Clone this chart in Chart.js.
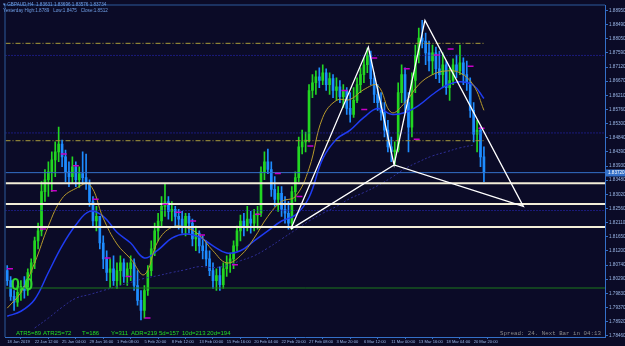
<!DOCTYPE html>
<html>
<head>
<meta charset="utf-8">
<script src="https://cdn.jsdelivr.net/npm/chart.js@4.4.1/dist/chart.umd.min.js"></script>
<style>
  html, body { margin: 0; padding: 0; background: #0b0b27; }
  canvas { display: block; }
</style>
</head>
<body>
<canvas id="chart-candles" width="625" height="346"></canvas>
<script>
// GBPAUD H4, mid Jan - Mar 2019
var timeLabels = ["18 Jan 2019", "22 Jan 12:00", "25 Jan 04:00", "29 Jan 16:00", "1 Feb 08:00", "5 Feb 20:00",
    "8 Feb 12:00", "13 Feb 00:00", "15 Feb 16:00", "20 Feb 04:00", "22 Feb 20:00", "27 Feb 08:00",
    "3 Mar 20:00", "6 Mar 12:00", "11 Mar 00:00", "13 Mar 16:00", "18 Mar 04:00", "20 Mar 20:00"];
var timeTickBars = [0, 8, 16, 24, 32, 40, 48, 56, 64, 72, 80, 88, 96, 104, 112, 120, 128, 136];

var priceTicks = [1.88950, 1.88490, 1.88050, 1.87590, 1.87120, 1.86670, 1.86210, 1.85760, 1.85300, 1.84840,
    1.84390, 1.83930, 1.83480, 1.83020, 1.82560, 1.82110, 1.81650, 1.81200, 1.80740, 1.80290,
    1.79830, 1.79370, 1.78920, 1.78460];

var firstOpen = 1.8056;
var closes = [
    1.8024, 1.7973, 1.7954, 1.7986, 1.8005, 1.7992, 1.8050, 1.8081, 1.8152, 1.8184,
    1.8311, 1.8349, 1.8375, 1.8413, 1.8439, 1.8464, 1.8423, 1.8375, 1.8359, 1.8391,
    1.8349, 1.8369, 1.8356, 1.8337, 1.8279, 1.8216, 1.8231, 1.8145, 1.8094, 1.8050,
    1.8062, 1.8024, 1.8056, 1.8081, 1.8037, 1.8062, 1.8081, 1.8008, 1.7960, 1.7928,
    1.7992, 1.8056, 1.8126, 1.8184, 1.8216, 1.8263, 1.8279, 1.8247, 1.8254, 1.8231,
    1.8222, 1.8200, 1.8231, 1.8209, 1.8158, 1.8177, 1.8136, 1.8120, 1.8094, 1.8056,
    1.8024, 1.8040, 1.8011, 1.8062, 1.8081, 1.8094, 1.8136, 1.8184, 1.8216, 1.8200,
    1.8222, 1.8209, 1.8235, 1.8241, 1.8375, 1.8407, 1.8382, 1.8318, 1.8286, 1.8305,
    1.8254, 1.8241, 1.8209, 1.8311, 1.8356, 1.8455, 1.8471, 1.8477, 1.8637, 1.8662,
    1.8681, 1.8669, 1.8694, 1.8656, 1.8675, 1.8637, 1.8649, 1.8617, 1.8637, 1.8579,
    1.8560, 1.8605, 1.8656, 1.8688, 1.8720, 1.8751, 1.8675, 1.8624, 1.8598, 1.8566,
    1.8509, 1.8455, 1.8439, 1.8445, 1.8630, 1.8688, 1.8598, 1.8519, 1.8669, 1.8751,
    1.8806, 1.8796, 1.8758, 1.8732, 1.8758, 1.8707, 1.8688, 1.8720, 1.8646, 1.8669,
    1.8720, 1.8700, 1.8726, 1.8688, 1.8662, 1.8573, 1.8496, 1.8509, 1.8423, 1.8372];
var highs = [
    1.8072, 1.8037, 1.7992, 1.8008, 1.8024, 1.8037, 1.8062, 1.8094, 1.8164, 1.8209,
    1.8343, 1.8382, 1.8407, 1.8439, 1.8471, 1.8519, 1.8477, 1.8445, 1.8407, 1.8423,
    1.8407, 1.8391, 1.8439, 1.8432, 1.8349, 1.8295, 1.8263, 1.8231, 1.8168, 1.8120,
    1.8094, 1.8104, 1.8081, 1.8104, 1.8094, 1.8081, 1.8104, 1.8094, 1.8056, 1.7992,
    1.8008, 1.8072, 1.8152, 1.8209, 1.8241, 1.8295, 1.8337, 1.8295, 1.8279, 1.8263,
    1.8254, 1.8247, 1.8241, 1.8241, 1.8222, 1.8200, 1.8184, 1.8168, 1.8152, 1.8120,
    1.8081, 1.8062, 1.8068, 1.8081, 1.8104, 1.8113, 1.8152, 1.8200, 1.8235, 1.8241,
    1.8263, 1.8247, 1.8254, 1.8263, 1.8391, 1.8439, 1.8448, 1.8407, 1.8359, 1.8327,
    1.8327, 1.8295, 1.8279, 1.8327, 1.8375, 1.8487, 1.8509, 1.8503, 1.8656, 1.8688,
    1.8700, 1.8710, 1.8720, 1.8707, 1.8694, 1.8688, 1.8678, 1.8669, 1.8656, 1.8646,
    1.8630, 1.8646, 1.8678, 1.8710, 1.8742, 1.8774, 1.8764, 1.8694, 1.8656, 1.8630,
    1.8598, 1.8541, 1.8487, 1.8471, 1.8662, 1.8720, 1.8710, 1.8630, 1.8694, 1.8783,
    1.8838, 1.8863, 1.8822, 1.8796, 1.8783, 1.8777, 1.8764, 1.8758, 1.8732, 1.8710,
    1.8739, 1.8751, 1.8783, 1.8742, 1.8732, 1.8678, 1.8598, 1.8541, 1.8519, 1.8455];
var lows = [
    1.8008, 1.7960, 1.7928, 1.7941, 1.7960, 1.7967, 1.7976, 1.8024, 1.8062, 1.8126,
    1.8168, 1.8279, 1.8295, 1.8311, 1.8359, 1.8407, 1.8391, 1.8343, 1.8327, 1.8337,
    1.8327, 1.8324, 1.8337, 1.8318, 1.8263, 1.8200, 1.8184, 1.8126, 1.8062, 1.8024,
    1.8002, 1.8008, 1.7999, 1.8011, 1.8018, 1.8008, 1.8024, 1.7992, 1.7945, 1.7897,
    1.7903, 1.7976, 1.8040, 1.8104, 1.8152, 1.8200, 1.8231, 1.8222, 1.8216, 1.8200,
    1.8190, 1.8177, 1.8168, 1.8177, 1.8136, 1.8120, 1.8113, 1.8094, 1.8072, 1.8040,
    1.7999, 1.7992, 1.7992, 1.7999, 1.8037, 1.8050, 1.8062, 1.8120, 1.8152, 1.8168,
    1.8184, 1.8177, 1.8184, 1.8190, 1.8231, 1.8349, 1.8369, 1.8295, 1.8263, 1.8247,
    1.8231, 1.8209, 1.8190, 1.8190, 1.8279, 1.8343, 1.8432, 1.8439, 1.8471, 1.8614,
    1.8624, 1.8646, 1.8656, 1.8637, 1.8624, 1.8614, 1.8605, 1.8598, 1.8582, 1.8560,
    1.8535, 1.8550, 1.8598, 1.8630, 1.8662, 1.8694, 1.8656, 1.8598, 1.8573, 1.8541,
    1.8487, 1.8439, 1.8407, 1.8397, 1.8439, 1.8598, 1.8566, 1.8439, 1.8487, 1.8630,
    1.8726, 1.8774, 1.8720, 1.8700, 1.8688, 1.8675, 1.8662, 1.8646, 1.8624, 1.8605,
    1.8656, 1.8678, 1.8688, 1.8656, 1.8637, 1.8550, 1.8471, 1.8439, 1.8391, 1.8343];

// moving averages, read every 4th bar
var maBars = [0, 4, 8, 12, 16, 20, 24, 28, 32, 36, 40, 44, 48, 52, 56, 60, 64, 68, 72, 76,
    80, 84, 88, 92, 96, 100, 104, 108, 112, 116, 120, 124, 128, 132, 136, 139];
var maFast = [1.7935, 1.7986, 1.8081, 1.8200, 1.8289, 1.8321, 1.8334, 1.8225, 1.8142, 1.8094,
    1.8043, 1.8152, 1.8196, 1.8196, 1.8171, 1.8120, 1.8081, 1.8104, 1.8161, 1.8231,
    1.8279, 1.8295, 1.8385, 1.8550, 1.8605, 1.8608, 1.8640, 1.8653, 1.8566, 1.8598,
    1.8656, 1.8688, 1.8700, 1.8694, 1.8653, 1.8573];
var maMid = [1.7909, 1.7925, 1.7963, 1.8050, 1.8136, 1.8203, 1.8247, 1.8231, 1.8180, 1.8145,
    1.8097, 1.8123, 1.8161, 1.8174, 1.8164, 1.8136, 1.8113, 1.8120, 1.8152, 1.8184,
    1.8216, 1.8235, 1.8292, 1.8417, 1.8480, 1.8509, 1.8550, 1.8579, 1.8560, 1.8566,
    1.8589, 1.8624, 1.8653, 1.8665, 1.8653, 1.8611];
var maSlowBars = [8, 12, 16, 20, 24, 28, 32, 36, 40, 44, 48, 52, 56, 60, 64, 68, 72, 76, 80, 84,
    88, 92, 96, 100, 104, 108, 112, 116, 120, 124, 128, 132, 136];
var maSlow = [1.7871, 1.7903, 1.7938, 1.7967, 1.7979, 1.7992, 1.8005, 1.8018, 1.8031, 1.8040,
    1.8050, 1.8059, 1.8069, 1.8066, 1.8072, 1.8088, 1.8104, 1.8129, 1.8158, 1.8187,
    1.8216, 1.8241, 1.8263, 1.8289, 1.8308, 1.8330, 1.8356, 1.8385, 1.8407, 1.8426,
    1.8439, 1.8452, 1.8461];

// levels
var roundLevels = [1.8750, 1.8500, 1.8250];
var greenLevels = [1.8000];
var zoneLevels = [1.8338, 1.8271, 1.8197];
var yesterdayLevels = [1.8789, 1.8475];

// harmonic pattern X A B C D
var patternBars = [82.7, 105.3, 112.8, 121.8, 150.5];
var patternPrices = [1.8190, 1.8777, 1.8397, 1.8863, 1.8263];

// daily open markers
var markerBars = [0, 9.6, 12.8, 15.7, 19.2, 25.0, 28.5, 34.6, 40.1, 45.3, 49.1, 53.4, 56.0, 65.6,
    72.3, 78.1, 84.4, 87.6, 97.5, 103.3, 106.2, 115.7, 118.6, 124.4, 128.5, 134.3, 137.5];
var markerPrices = [1.8062, 1.8190, 1.8314, 1.8432, 1.8394, 1.8286, 1.8097, 1.8037, 1.7903, 1.8270,
    1.8244, 1.8216, 1.8171, 1.8075, 1.8238, 1.8369, 1.8295, 1.8458, 1.8637, 1.8576,
    1.8742, 1.8707, 1.8480, 1.8751, 1.8771, 1.8715, 1.8515];

var X_MIN = -0.5, X_MAX = 174.3;
var Y_MIN = 1.7842, Y_MAX = 1.8911;

var UP = '#22d622', DOWN = '#1e8cff';
var AXIS_BLUE = '#3470c8', TEXT_BLUE = '#9ab6e6';

var opens = closes.map(function (c, i) { return i === 0 ? firstOpen : closes[i - 1]; });
var lastClose = closes[closes.length - 1];

function candleColor(ctx) {
    var i = ctx.dataIndex;
    return closes[i] >= opens[i] ? UP : DOWN;
}

function hLine(level, x0, x1, color, width, dash, order) {
    return {
        type: 'line',
        data: [{x: x0, y: level}, {x: x1, y: level}],
        borderColor: color,
        borderWidth: width,
        borderDash: dash || [],
        pointRadius: 0,
        order: order
    };
}

var datasets = [];

// wicks and bodies
datasets.push({
    type: 'bar',
    data: closes.map(function (c, i) { return {x: i, y: [lows[i], highs[i]]}; }),
    backgroundColor: candleColor,
    barThickness: 1,
    grouped: false,
    order: 20
});
datasets.push({
    type: 'bar',
    data: closes.map(function (c, i) { return {x: i, y: [opens[i], c]}; }),
    backgroundColor: candleColor,
    barThickness: 2,
    minBarLength: 1,
    grouped: false,
    order: 19
});

// moving averages
datasets.push({
    type: 'line',
    data: maSlowBars.map(function (b, i) { return {x: b, y: maSlow[i]}; }),
    borderColor: '#2e2e96',
    borderWidth: 1,
    borderDash: [2, 2],
    pointRadius: 0,
    tension: 0.4,
    order: 18
});
datasets.push({
    type: 'line',
    data: maBars.map(function (b, i) { return {x: b, y: maMid[i]}; }),
    borderColor: '#1f3cf2',
    borderWidth: 1.5,
    pointRadius: 0,
    tension: 0.4,
    order: 9
});
datasets.push({
    type: 'line',
    data: maBars.map(function (b, i) { return {x: b, y: maFast[i]}; }),
    borderColor: '#b89a2c',
    borderWidth: 1,
    pointRadius: 0,
    tension: 0.4,
    order: 8
});

// horizontal objects
roundLevels.forEach(function (v) { datasets.push(hLine(v, X_MIN, X_MAX, '#2c2cd0', 1, [1, 2], 7)); });
greenLevels.forEach(function (v) { datasets.push(hLine(v, X_MIN, X_MAX, '#1d7a1d', 1, null, 7)); });
yesterdayLevels.forEach(function (v) { datasets.push(hLine(v, X_MIN, closes.length - 1, '#a99c3a', 1, [5, 2, 1, 2], 7)); });
datasets.push(hLine(lastClose, X_MIN, X_MAX, AXIS_BLUE, 1, null, 6));
zoneLevels.forEach(function (v) { datasets.push(hLine(v, X_MIN, X_MAX, '#f3eed8', 2, null, 5)); });

// pattern X-A-B-C-D, then D-B-X
var patternOrder = [0, 1, 2, 3, 4, 2, 0];
datasets.push({
    type: 'line',
    data: patternOrder.map(function (k) { return {x: patternBars[k], y: patternPrices[k]}; }),
    borderColor: '#ffffff',
    borderWidth: 1.3,
    pointRadius: 0,
    order: 2
});

// magenta markers
datasets.push({
    type: 'line',
    data: markerBars.map(function (b, i) { return {x: b + 0.8, y: markerPrices[i]}; }),
    showLine: false,
    pointStyle: 'line',
    pointRadius: 3,
    pointBorderWidth: 1.5,
    pointBorderColor: '#c800c8',
    borderColor: '#c800c8',
    order: 3
});

var overlay = {
    id: 'overlay',
    beforeDraw: function (chart) {
        var ctx = chart.ctx;
        ctx.save();
        ctx.fillStyle = '#0b0b27';
        ctx.fillRect(0, 0, chart.width, chart.height);
        ctx.restore();
    },
    afterDraw: function (chart) {
        var ctx = chart.ctx;
        var area = chart.chartArea;
        var yScale = chart.scales.y;
        ctx.save();

        // frame
        ctx.strokeStyle = '#2c5a9c';
        ctx.lineWidth = 1;
        ctx.beginPath();
        ctx.moveTo(area.left - 0.5, area.bottom);
        ctx.lineTo(area.left - 0.5, area.top - 0.5);
        ctx.lineTo(area.right, area.top - 0.5);
        ctx.stroke();

        // header
        ctx.fillStyle = '#6f9ee6';
        ctx.font = '4.6px "Liberation Sans"';
        ctx.textBaseline = 'middle';
        ctx.textAlign = 'left';
        ctx.fillText('\u25BE GBPAUD,H4  1.83631 1.83696 1.83576 1.83734', 3, 5);
        ctx.fillText('Yesterday High:1.8789   Low:1.8475   Close:1.8512', 3, 10.5);

        // big counter
        ctx.fillStyle = '#2fd62f';
        ctx.font = 'bold 16px "Liberation Sans"';
        ctx.textBaseline = 'alphabetic';
        ctx.fillText('0.0', 11, 290);

        // ATR line
        ctx.font = '6px "Liberation Sans Narrow", "Liberation Sans"';
        ctx.textBaseline = 'middle';
        ctx.fillStyle = '#22dd22';
        var atr = [['ATR5=89', 16], ['ATR25=72', 43], ['T=186', 82], ['Y=311', 111], ['ADR=219', 131],
            ['5d=157', 159], ['10d=213', 182], ['20d=194', 207]];
        atr.forEach(function (a) { ctx.fillText(a[0], a[1], 333); });

        // spread / timer
        ctx.fillStyle = '#8c8c8c';
        ctx.font = '5.8px "Liberation Mono"';
        ctx.fillText('Spread: 24. Next Bar in 04:13', 500, 333);

        // bid label on the price axis
        var by = Math.round(yScale.getPixelForValue(lastClose));
        ctx.fillStyle = AXIS_BLUE;
        ctx.fillRect(area.right + 1, by - 3.5, 19, 7);
        ctx.fillStyle = '#ffffff';
        ctx.font = '4.6px "Liberation Sans"';
        ctx.fillText(lastClose.toFixed(5), area.right + 3, by);
        ctx.restore();
    }
};

var ctx = document.getElementById('chart-candles').getContext('2d');
new Chart(ctx, {
    type: 'line',
    data: {datasets: datasets},
    plugins: [overlay],
    options: {
        responsive: false,
        animation: false,
        devicePixelRatio: 1,
        events: [],
        layout: {padding: {left: 2, top: 2, right: 0, bottom: 0}},
        plugins: {legend: {display: false}, tooltip: {enabled: false}},
        scales: {
            x: {
                type: 'linear',
                min: X_MIN,
                max: X_MAX,
                offset: false,
                afterFit: function (scale) { scale.height = 9; },
                afterBuildTicks: function (scale) {
                    scale.ticks = timeTickBars.map(function (b) { return {value: b}; });
                },
                grid: {display: true, drawOnChartArea: false, drawTicks: true, tickLength: 2, color: AXIS_BLUE},
                border: {display: true, color: AXIS_BLUE, width: 1},
                ticks: {
                    autoSkip: false,
                    maxRotation: 0,
                    align: 'start',
                    padding: 0,
                    color: TEXT_BLUE,
                    font: {size: 4.1, family: 'Liberation Sans'},
                    callback: function (v, i) { return timeLabels[i]; }
                }
            },
            y: {
                type: 'linear',
                position: 'right',
                min: Y_MIN,
                max: Y_MAX,
                afterFit: function (scale) { scale.width = 20; },
                afterBuildTicks: function (scale) {
                    scale.ticks = priceTicks.map(function (v) { return {value: v}; });
                },
                grid: {display: true, drawOnChartArea: false, drawTicks: true, tickLength: 3, color: AXIS_BLUE},
                border: {display: true, color: AXIS_BLUE, width: 1},
                ticks: {
                    autoSkip: false,
                    padding: 1,
                    color: TEXT_BLUE,
                    font: {size: 4.6, family: 'Liberation Sans'},
                    callback: function (v) { return v.toFixed(5); }
                }
            }
        }
    }
});
</script>
</body>
</html>
